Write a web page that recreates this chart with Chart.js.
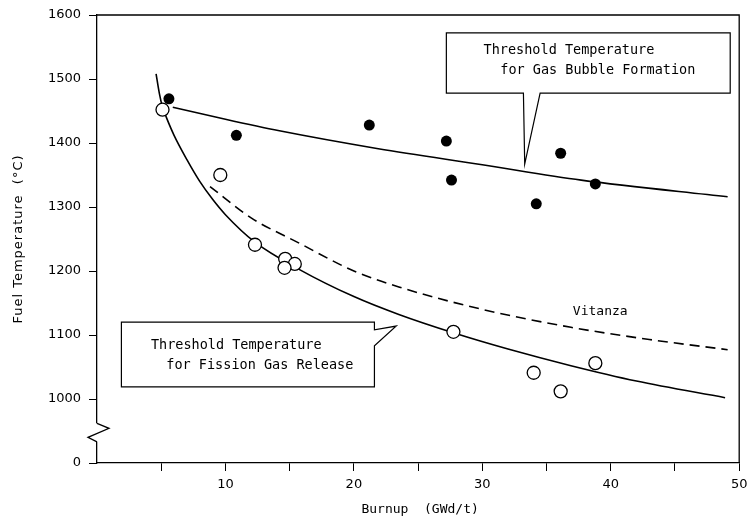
<!DOCTYPE html>
<html>
<head>
<meta charset="utf-8">
<script src="https://cdn.jsdelivr.net/npm/chart.js@4.4.0/dist/chart.umd.min.js"></script>
<style>
  body { margin: 0; background: #fff; }
  canvas { display: block; }
</style>
</head>
<body>
<canvas id="chart" width="747" height="518"></canvas>
<script>
// measured points (burnup GWd/t, temperature C)
const bubbleX = [5.6, 10.85, 21.2, 27.2, 27.6, 34.2, 36.1, 38.8];
const bubbleY = [1469, 1412, 1428, 1403, 1342, 1305, 1384, 1336];
const releaseX = [5.1, 9.6, 12.3, 14.65, 15.4, 14.6, 27.75, 34.0, 36.1, 38.8];
const releaseY = [1452, 1350, 1241, 1219, 1211, 1205, 1105, 1041, 1012, 1056];

// threshold curves
const bubbleLineX = [5.9, 10, 14.2, 21.9, 30, 37.7, 49.1];
const bubbleLineY = [1456, 1437, 1419, 1391, 1366, 1342, 1316];
const releaseLineX = [4.6, 4.85, 5.1, 5.4, 6, 7, 8, 9, 10, 12.3, 15.7, 20, 23.5, 27.8, 32, 36.9, 42, 48.9];
const releaseLineY = [1508, 1478, 1456, 1440, 1412, 1374, 1340, 1312, 1288, 1245, 1203, 1160, 1132, 1103, 1078, 1052, 1028, 1002];
const vitanzaX = [8.8, 12, 15.7, 20, 23.5, 30, 36.9, 43, 49.1];
const vitanzaY = [1332, 1283, 1244, 1200, 1175, 1140, 1112, 1093, 1077];

// y axis is broken: value 900 stands for the "0" tick
const yTicks = [900, 1000, 1100, 1200, 1300, 1400, 1500, 1600];
const xTicks = [10, 20, 30, 40, 50];

const pts = (xs, ys) => xs.map((x, i) => ({ x: x, y: ys[i] }));

const monoFont = '13.5px "DejaVu Sans Mono"';

// callouts and labels in data coordinates
const callouts = [
  { x1: 27.2, x2: 49.3, top: 1572, bottom: 1478, side: 'bottom', base: [33.2, 34.5], tip: [33.3, 1367],
    lines: [['Threshold Temperature', 30.1, 1545], ['for Gas Bubble Formation', 31.4, 1514]] },
  { x1: 1.9, x2: 21.6, top: 1120, bottom: 1019, side: 'right', base: [1108, 1083], tip: [23.3, 1114],
    lines: [['Threshold Temperature', 4.2, 1084], ['for Fission Gas Release', 5.4, 1052]] }
];

const overlay = {
  id: 'overlay',
  afterDraw(chart) {
    const ctx = chart.ctx;
    const xs = chart.scales.x, ys = chart.scales.y;
    const a = chart.chartArea;
    ctx.save();
    ctx.strokeStyle = '#000';
    ctx.lineWidth = 1.3;
    // frame top and right
    ctx.beginPath();
    ctx.moveTo(a.left, a.top);
    ctx.lineTo(a.right, a.top);
    ctx.lineTo(a.right, a.bottom);
    ctx.stroke();

    // axis break
    const b1 = ys.getPixelForValue(962), b2 = ys.getPixelForValue(933);
    ctx.fillStyle = '#fff';
    ctx.fillRect(a.left - 2, b1, 4, b2 - b1);
    ctx.beginPath();
    ctx.moveTo(a.left, b1);
    ctx.lineTo(a.left + 12, b1 + 5);
    ctx.lineTo(a.left - 9, b1 + 14);
    ctx.lineTo(a.left, b2);
    ctx.stroke();

    // callouts
    ctx.lineWidth = 1.2;
    callouts.forEach(c => {
      const l = xs.getPixelForValue(c.x1), r = xs.getPixelForValue(c.x2);
      const t = ys.getPixelForValue(c.top), btm = ys.getPixelForValue(c.bottom);
      const tx = xs.getPixelForValue(c.tip[0]), ty = ys.getPixelForValue(c.tip[1]);
      ctx.beginPath();
      ctx.moveTo(l, t);
      ctx.lineTo(r, t);
      if (c.side === 'bottom') {
        ctx.lineTo(r, btm);
        ctx.lineTo(xs.getPixelForValue(c.base[1]), btm);
        ctx.lineTo(tx, ty);
        ctx.lineTo(xs.getPixelForValue(c.base[0]), btm);
        ctx.lineTo(l, btm);
      } else {
        ctx.lineTo(r, ys.getPixelForValue(c.base[0]));
        ctx.lineTo(tx, ty);
        ctx.lineTo(r, ys.getPixelForValue(c.base[1]));
        ctx.lineTo(r, btm);
        ctx.lineTo(l, btm);
      }
      ctx.closePath();
      ctx.fillStyle = '#fff';
      ctx.fill();
      ctx.stroke();
      ctx.fillStyle = '#000';
      ctx.font = monoFont;
      ctx.textBaseline = 'middle';
      ctx.textAlign = 'left';
      c.lines.forEach(([txt, x, y]) => ctx.fillText(txt, xs.getPixelForValue(x), ys.getPixelForValue(y)));
    });

    ctx.font = '13px "DejaVu Sans Mono"';
    ctx.fillText('Vitanza', xs.getPixelForValue(37.05), ys.getPixelForValue(1136));

    // axis titles
    ctx.textAlign = 'center';
    ctx.font = '13px "DejaVu Sans Mono"';
    ctx.fillText('Burnup  (GWd/t)', (a.left + a.right) / 2 + 2, 510);
    ctx.translate(19, 239);
    ctx.rotate(-Math.PI / 2);
    ctx.font = '13px "DejaVu Sans"';
    ctx.letterSpacing = '1px';
    ctx.fillText('Fuel Temperature  (°C)', 0, 0);
    ctx.restore();
  }
};

const fixX = s => { s.height = 55; s.paddingLeft = 0; s.paddingRight = 0; };
const fixY = s => { s.width = 97; s.paddingTop = 0; s.paddingBottom = 0; };

new Chart(document.getElementById('chart').getContext('2d'), {
  type: 'scatter',
  data: {
    datasets: [
      {
        label: 'Gas bubble formation',
        data: pts(bubbleX, bubbleY),
        pointRadius: 5.5,
        pointBackgroundColor: '#000',
        pointBorderColor: '#000',
        pointBorderWidth: 0,
        order: 0
      },
      {
        label: 'Fission gas release',
        data: pts(releaseX, releaseY),
        pointRadius: 6.5,
        pointBackgroundColor: '#fff',
        pointBorderColor: '#000',
        pointBorderWidth: 1.3,
        order: 0
      },
      {
        type: 'line',
        label: 'Bubble threshold',
        data: pts(bubbleLineX, bubbleLineY),
        borderColor: '#000',
        borderWidth: 1.6,
        pointRadius: 0,
        cubicInterpolationMode: 'monotone',
        order: 1
      },
      {
        type: 'line',
        label: 'Release threshold',
        data: pts(releaseLineX, releaseLineY),
        borderColor: '#000',
        borderWidth: 1.6,
        pointRadius: 0,
        cubicInterpolationMode: 'monotone',
        order: 1
      },
      {
        type: 'line',
        label: 'Vitanza',
        data: pts(vitanzaX, vitanzaY),
        borderColor: '#000',
        borderWidth: 1.6,
        borderDash: [10, 6],
        pointRadius: 0,
        cubicInterpolationMode: 'monotone',
        order: 1
      }
    ]
  },
  options: {
    responsive: false,
    animation: false,
    layout: { padding: { top: 15, right: 5, left: 0, bottom: 0 } },
    plugins: {
      legend: { display: false },
      tooltip: { enabled: false }
    },
    scales: {
      x: {
        type: 'linear',
        min: 0,
        max: 50,
        afterFit: fixX,
        border: { display: true, color: '#000', width: 1.3 },
        grid: { drawOnChartArea: false, drawTicks: true, tickLength: 8, color: '#000', lineWidth: 1 },
        afterBuildTicks: s => { s.ticks = [5, 10, 15, 20, 25, 30, 35, 40, 45, 50].map(v => ({ value: v })); },
        ticks: {
          autoSkip: false,
          maxRotation: 0,
          padding: 6,
          color: '#000',
          font: { family: 'DejaVu Sans', size: 13 },
          callback: v => xTicks.includes(v) ? String(v) : ''
        }
      },
      y: {
        type: 'linear',
        min: 900,
        max: 1600,
        afterFit: fixY,
        border: { display: true, color: '#000', width: 1.3 },
        grid: { drawOnChartArea: false, drawTicks: true, tickLength: 8, color: '#000', lineWidth: 1 },
        afterBuildTicks: s => { s.ticks = yTicks.map(v => ({ value: v })); },
        ticks: {
          padding: 8,
          color: '#000',
          font: { family: 'DejaVu Sans', size: 13 },
          callback: v => v === 900 ? '0' : String(v)
        }
      }
    }
  },
  plugins: [overlay]
});
</script>
</body>
</html>
